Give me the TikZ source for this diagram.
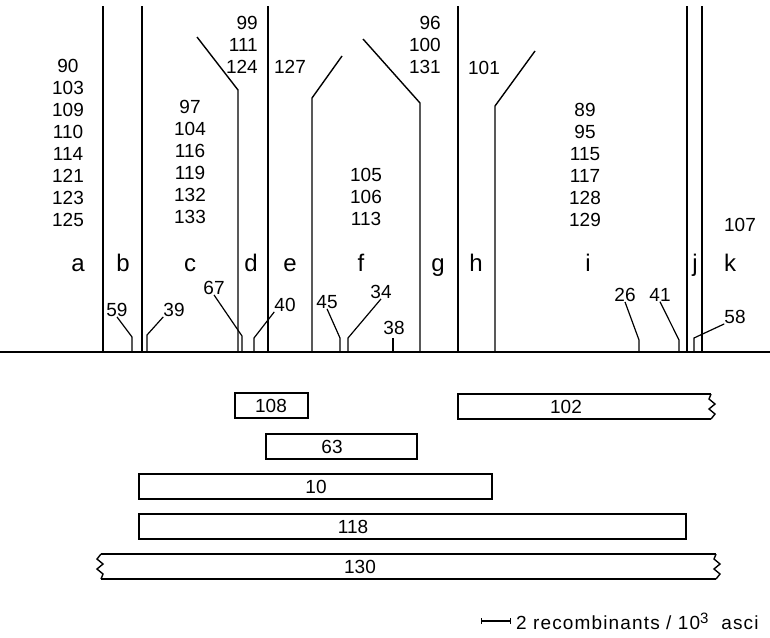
\documentclass[tikz,border=0pt]{standalone}
\usepackage{fontspec}
\setmainfont{Liberation Sans}
\usetikzlibrary{positioning, arrows.meta}

\begin{document}
\begin{tikzpicture}[
  x=1pt, y=-1pt,
  every node/.style={inner sep=0pt},
  num/.style={font=\fontsize{19}{22}\selectfont, align=center},
  letter/.style={font=\fontsize{24}{24}\selectfont, anchor=base},
  border/.style={line width=1.4pt},
  tick/.style={line width=1.2pt},
  bar/.style={line width=1.4pt}
]
  \useasboundingbox (0,0) rectangle (770,637);
  \coordinate (base) at (0,352);

  % map line and region borders
  \draw[border] (base) -- (770,352);
  \foreach \x in {103,142,268,458,687,702}
    \draw[border] (\x,6) -- (\x,352);
  \draw[border] (197,37) -- (238,90) -- (238,352);
  \draw[border] (342,56) -- (312,98) -- (312,352);
  \draw[border] (363,39) -- (420,103) -- (420,352);
  \draw[border] (535,51) -- (495,106) -- (495,352);

  % region letters
  \node[letter] (ra) at (78,271) {a};
  \node[letter] (rb) at (123,271) {b};
  \node[letter] (rc) at (190,271) {c};
  \node[letter] (rd) at (251,271) {d};
  \node[letter] (re) at (290,271) {e};
  \node[letter] (rf) at (361,271) {f};
  \node[letter] (rg) at (438,271) {g};
  \node[letter] (rh) at (476,271) {h};
  \node[letter] (ri) at (588,271) {i};
  \node[letter] (rj) at (695,271) {j};
  \node[letter] (rk) at (730,271) {k};

  % mutant lists
  \node[num, anchor=north] (numa) at (68,59) {90\\103\\109\\110\\114\\121\\123\\125};
  \node[num, anchor=north] (numc) at (190,100) {97\\104\\116\\119\\132\\133};
  \node[num, anchor=north east, align=right] (numd) at (258,16) {99\\111\\124};
  \node[num] (nume) at (290,67) {127};
  \node[num, anchor=north] (numf) at (366,168) {105\\106\\113};
  \node[num, anchor=north east, align=right] (numg) at (441,16) {96\\100\\131};
  \node[num] (numh) at (484,68) {101};
  \node[num, anchor=north] (numi) at (585,103) {89\\95\\115\\117\\128\\129};
  \node[num] (numk) at (740,225) {107};

  % point mutants on the map
  \node[num] (n59) at (117,310) {59};
  \node[num] (n39) at (174,310) {39};
  \node[num] (n67) at (214,288) {67};
  \node[num] (n40) at (285,305) {40};
  \node[num] (n45) at (327,302) {45};
  \node[num] (n34) at (381,292) {34};
  \node[num] (n38) at (394,328) {38};
  \node[num] (n26) at (625,295) {26};
  \node[num] (n41) at (660,295) {41};
  \node[num] (n58) at (735,317) {58};

  \coordinate (k59) at (132,337);
  \coordinate (k39) at (147,335);
  \coordinate (k67) at (242,336);
  \coordinate (k40) at (254,338);
  \coordinate (k45) at (340,338);
  \coordinate (k34) at (348,338);
  \coordinate (k38) at (393,338);
  \coordinate (k26) at (639,340);
  \coordinate (k41) at (679,340);
  \coordinate (k58) at (694,338);

  \draw[tick] (n59.south) -- (k59) -- (k59 |- base);
  \draw[tick] (n39.south west) -- (k39) -- (k39 |- base);
  \draw[tick] (n67.south) -- (k67) -- (k67 |- base);
  \draw[tick] (n40.south west) -- (k40) -- (k40 |- base);
  \draw[tick] (n45.south) -- (k45) -- (k45 |- base);
  \draw[tick] (n34.south) -- (k34) -- (k34 |- base);
  \draw[tick] (k38) -- (k38 |- base);
  \draw[tick] (n26.south) -- (k26) -- (k26 |- base);
  \draw[tick] (n41.south) -- (k41) -- (k41 |- base);
  \draw[tick] (n58.south west) -- (k58) -- (k58 |- base);

  % deletions
  \draw[bar] (235,393) rectangle (308,418);
  \node[num] (d108) at (271,406) {108};
  \draw[bar] (711,394) -- (458,394) -- (458,419) -- (711,419);
  \draw[bar] (711,394) -- (709,399) -- (715,404) -- (709,409) -- (715,414) -- (711,419);
  \node[num] (d102) at (566,407) {102};
  \draw[bar] (266,434) rectangle (417,459);
  \node[num] (d63) at (332,447) {63};
  \draw[bar] (139,474) rectangle (492,499);
  \node[num] (d10) at (316,487) {10};
  \draw[bar] (139,514) rectangle (686,539);
  \node[num] (d118) at (353,527) {118};
  \draw[bar] (101,554) -- (716,554);
  \draw[bar] (101,579) -- (716,579);
  \draw[bar] (101,554) -- (97,559) -- (103,564) -- (97,569) -- (103,574) -- (101,579);
  \draw[bar] (716,554) -- (714,559) -- (720,564) -- (714,569) -- (720,574) -- (716,579);
  \node[num] (d130) at (360,567) {130};

  % scale
  \coordinate (sbl) at (481,621);
  \coordinate (sbr) at (511,621);
  \draw[tick, {Bar[width=6pt]}-{Bar[width=6pt]}] (sbl) -- (sbr);
  \node[anchor=west, font=\fontsize{19}{20}\selectfont\addfontfeatures{LetterSpace=6}] (scale) at ([xshift=5pt]sbr)
    {2 recombinants / 10\raisebox{6pt}{\fontsize{15}{15}\selectfont 3}\ \ asci};
\end{tikzpicture}
\end{document}
